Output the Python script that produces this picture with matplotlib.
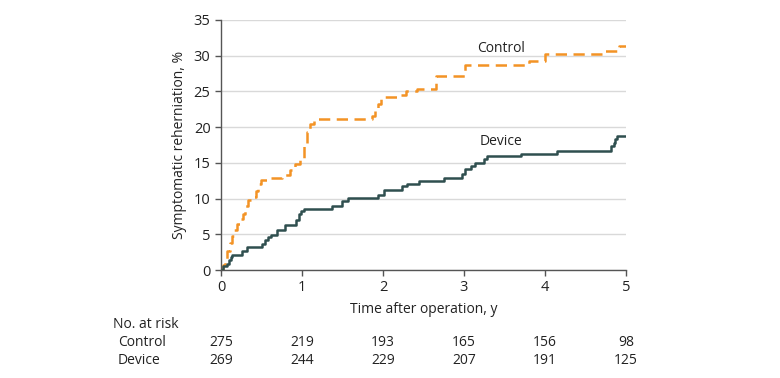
import numpy as np
import matplotlib.pyplot as plt

plt.rcParams['font.family'] = ['Open Sans', 'DejaVu Sans']

# Kaplan-Meier style step data (time in years, cumulative %)
control_t = [0, 0.02, 0.05, 0.08, 0.11, 0.13, 0.16, 0.20, 0.24, 0.27, 0.30, 0.33,
             0.41, 0.43, 0.46, 0.49, 0.60, 0.75, 0.85, 0.92, 0.97, 1.02, 1.06,
             1.10, 1.15, 1.20, 1.86, 1.90, 1.94, 1.98, 2.03, 2.17, 2.29, 2.42,
             2.66, 3.01, 3.80, 4.00, 4.70, 4.92, 5.0]
control_v = [0, 0.7, 1.6, 2.6, 3.8, 4.7, 5.6, 6.5, 7.2, 7.8, 9.0, 9.8,
             10.2, 11.0, 12.0, 12.6, 12.9, 13.3, 14.0, 14.9, 15.5, 17.5, 19.3,
             20.4, 20.8, 21.2, 21.6, 22.5, 23.2, 24.0, 24.2, 24.5, 25.0, 25.3,
             27.1, 28.7, 29.2, 30.2, 30.7, 31.3, 31.3]

device_t = [0, 0.02, 0.08, 0.10, 0.12, 0.14, 0.26, 0.32, 0.51, 0.54, 0.58, 0.62,
            0.69, 0.79, 0.93, 0.96, 0.99, 1.02, 1.37, 1.50, 1.57, 1.94, 2.01,
            2.23, 2.30, 2.45, 2.75, 2.97, 3.01, 3.09, 3.14, 3.25, 3.28, 3.70,
            4.15, 4.82, 4.85, 4.87, 4.89, 5.0]
device_v = [0, 0.5, 0.9, 1.4, 1.8, 2.1, 2.6, 3.2, 3.7, 4.2, 4.6, 4.9,
            5.6, 6.3, 7.0, 7.8, 8.2, 8.5, 9.0, 9.7, 10.1, 10.5, 11.2,
            11.7, 12.1, 12.5, 12.9, 13.5, 14.1, 14.6, 15.0, 15.5, 15.9, 16.3,
            16.7, 17.3, 17.8, 18.3, 18.8, 18.8]

risk_times = [0, 1, 2, 3, 4, 5]
risk_control = [275, 219, 193, 165, 156, 98]
risk_device = [269, 244, 229, 207, 191, 125]

orange = '#F39325'
slate = '#2F4F4F'
txt = '#222222'

fig = plt.figure(figsize=(7.8, 3.78), dpi=100)
ax = fig.add_axes([0.2833, 0.2857, 0.5192, 0.6614])

ax.step(control_t, control_v, where='post', color=orange, lw=1.8,
        dashes=(4.5, 2.6), zorder=3)
ax.step(device_t, device_v, where='post', color=slate, lw=1.8, zorder=3)

ax.text(3.46, 30.0, 'Control', ha='center', va='bottom', fontsize=10, color=txt)
ax.text(3.46, 17.0, 'Device', ha='center', va='bottom', fontsize=10, color=txt)

ax.set_xlim(0, 5)
ax.set_ylim(0, 35)
ax.set_xticks(range(0, 6))
ax.set_yticks(range(0, 36, 5))
ax.yaxis.grid(True, color='#D9D9D9', lw=1)
ax.set_axisbelow(True)
for s in ['top', 'right']:
    ax.spines[s].set_visible(False)
for s in ['left', 'bottom']:
    ax.spines[s].set_color('#555555')
    ax.spines[s].set_linewidth(1)
ax.tick_params(axis='both', colors='#555555', labelcolor=txt, labelsize=10.5,
               length=4, width=1)
ax.set_xlabel('Time after operation, y', fontsize=10, color=txt, labelpad=5)
ax.set_ylabel('Symptomatic reherniation, %', fontsize=10, color=txt, labelpad=5)

# number at risk table
fig.text(113 / 780, 1 - 325 / 378, 'No. at risk', fontsize=10, color=txt,
         ha='left', va='center')
fig.text(118 / 780, 1 - 343 / 378, 'Control', fontsize=10, color=txt,
         ha='left', va='center')
fig.text(118 / 780, 1 - 360 / 378, 'Device', fontsize=10, color=txt,
         ha='left', va='center')
for t, c, d in zip(risk_times, risk_control, risk_device):
    xf = ax.transData.transform((t, 0))[0]
    xf = fig.transFigure.inverted().transform((xf, 0))[0]
    fig.text(xf, 1 - 343 / 378, str(c), fontsize=10, color=txt, ha='center', va='center')
    fig.text(xf, 1 - 360 / 378, str(d), fontsize=10, color=txt, ha='center', va='center')

fig.savefig('out.png', dpi=100)
